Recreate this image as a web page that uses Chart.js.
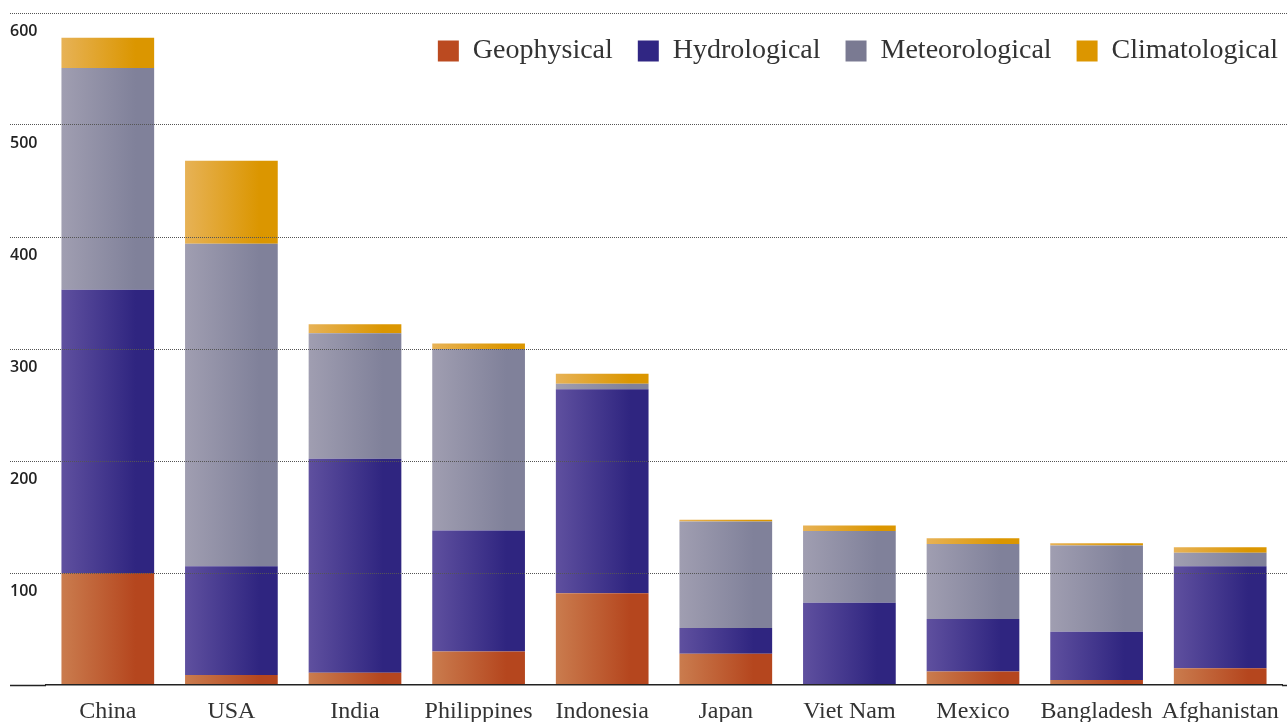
<!DOCTYPE html>
<html lang="en">
<head>
    <meta charset="UTF-8">
    <title>Disasters by country</title>
    <script src="https://cdn.jsdelivr.net/npm/chart.js"></script>
    <style>
        html, body { margin: 0; padding: 0; background: #fff; }
        .wrap { width: 1287px; height: 722px; position: relative; }
    </style>
</head>
<body>
<div class="wrap">
    <canvas id="disasterChart"></canvas>
</div>
<script>
    // countries on the x axis
    var countries = ["China", "USA", "India", "Philippines", "Indonesia", "Japan", "Viet Nam", "Mexico", "Bangladesh", "Afghanistan"];

    // values per disaster type
    var geophysical    = [100, 9, 11, 30, 82, 28, 0, 12, 4.5, 15];
    var hydrological   = [253, 97, 191, 108, 182, 23, 73.5, 47, 43, 91];
    var meteorological = [198, 288, 112, 162, 5, 95, 64, 67, 77, 12];
    var climatological = [27, 74, 8, 5, 9, 1.5, 5, 5, 2, 5];

    var yTicks = [0, 100, 200, 300, 400, 500, 600];

    var seriesNames = ["Geophysical", "Hydrological", "Meteorological", "Climatological"];
    var solidColors = ["#bb4a20", "#302683", "#7a7a92", "#dc9600"];
    var lightColors = ["#ca7c4e", "#5f509f", "#a09eb1", "#e7b256"];
    var darkColors  = ["#b5461e", "#2f2580", "#80819a", "#db9600"];

    var gridColor = "#555";
    var baseColor = "#222";

    function barGradient(i) {
        return function(ctx) {
            if (ctx.type !== "data") return solidColors[i];
            var chart = ctx.chart;
            var xs = chart.scales.x;
            if (!xs || !chart.chartArea) return solidColors[i];
            var c = xs.getPixelForValue(ctx.dataIndex);
            var half = (xs.width / countries.length) * 0.75 / 2;
            var g = chart.ctx.createLinearGradient(c - half, 0, c + half, 0);
            g.addColorStop(0, lightColors[i]);
            g.addColorStop(0.8, darkColors[i]);
            g.addColorStop(1, darkColors[i]);
            return g;
        };
    }

    var values = [geophysical, hydrological, meteorological, climatological];
    var datasets = [];
    for (var i = 0; i < seriesNames.length; i++) {
        datasets.push({
            label: seriesNames[i],
            data: values[i],
            backgroundColor: barGradient(i),
            borderWidth: 0,
            categoryPercentage: 1,
            barPercentage: 0.75
        });
    }

    var tickColor = function(ctx) { return ctx.tick && ctx.tick.value === 0 ? baseColor : gridColor; };
    var tickDash = function(ctx) { return ctx.tick && ctx.tick.value === 0 ? [] : [1, 1]; };
    var tickWidth = function(ctx) { return ctx.tick && ctx.tick.value === 0 ? 1.5 : 1; };

    // legend sits inside the plot: it takes no layout height, then gets room back to draw
    var legendInside = {
        id: "legendInside",
        afterLayout: function(chart) {
            var lg = chart.legend;
            if (!lg) return;
            lg.height = 80;
            lg.bottom = lg.top + 80;
        }
    };

    new Chart(document.getElementById("disasterChart"), {
        type: "bar",
        data: { labels: countries, datasets: datasets },
        plugins: [legendInside],
        options: {
            responsive: true,
            maintainAspectRatio: false,
            animation: false,
            layout: { padding: { left: 10, right: -16, top: 12, bottom: 0 } },
            plugins: {
                tooltip: { enabled: false },
                legend: {
                    position: "top",
                    align: "end",
                    maxHeight: 1,
                    labels: {
                        boxWidth: 21,
                        boxHeight: 21,
                        padding: 25,
                        color: "#333",
                        font: { family: "'Liberation Serif', serif", size: 28 },
                        generateLabels: function(chart) {
                            var items = Chart.defaults.plugins.legend.labels.generateLabels(chart);
                            items.forEach(function(it, k) {
                                it.fillStyle = solidColors[k];
                                it.strokeStyle = solidColors[k];
                                it.lineWidth = 0;
                            });
                            return items;
                        }
                    }
                }
            },
            scales: {
                x: {
                    stacked: true,
                    grid: { display: false, drawTicks: false },
                    border: { display: true, color: baseColor, width: 1.5, z: 1 },
                    ticks: {
                        color: "#333",
                        padding: 12,
                        maxRotation: 0,
                        autoSkip: false,
                        font: { family: "'Liberation Serif', serif", size: 24, lineHeight: 1.2 }
                    },
                    afterFit: function(scale) {
                        scale.height = 37;
                        scale.paddingLeft = 0;
                        scale.paddingRight = 0;
                    }
                },
                y: {
                    stacked: true,
                    min: yTicks[0],
                    max: yTicks[yTicks.length - 1],
                    afterBuildTicks: function(scale) {
                        scale.ticks = yTicks.map(function(v) { return { value: v }; });
                    },
                    grid: {
                        z: 1,
                        color: function(ctx) { return ctx.tick && ctx.tick.value === 0 ? "rgba(0,0,0,0)" : gridColor; },
                        lineWidth: 1,
                        drawTicks: true,
                        tickLength: 36,
                        tickColor: tickColor,
                        tickWidth: tickWidth,
                        tickBorderDash: tickDash
                    },
                    border: { display: false, dash: [1, 1] },
                    ticks: {
                        crossAlign: "far",
                        labelOffset: 18,
                        color: "#222",
                        font: { family: "'Open Sans', sans-serif", size: 16, weight: 600 },
                        callback: function(v) { return v === 0 ? "" : v; }
                    },
                    afterFit: function(scale) { scale.width = 36; }
                },
                y2: {
                    position: "right",
                    min: yTicks[0],
                    max: yTicks[yTicks.length - 1],
                    afterBuildTicks: function(scale) {
                        scale.ticks = yTicks.map(function(v) { return { value: v }; });
                    },
                    grid: {
                        z: 1,
                        drawOnChartArea: false,
                        drawTicks: true,
                        tickLength: 21,
                        tickColor: tickColor,
                        tickWidth: tickWidth,
                        tickBorderDash: tickDash
                    },
                    border: { display: false },
                    ticks: { display: false },
                    afterFit: function(scale) { scale.width = 21; }
                }
            }
        }
    });
</script>
</body>
</html>
